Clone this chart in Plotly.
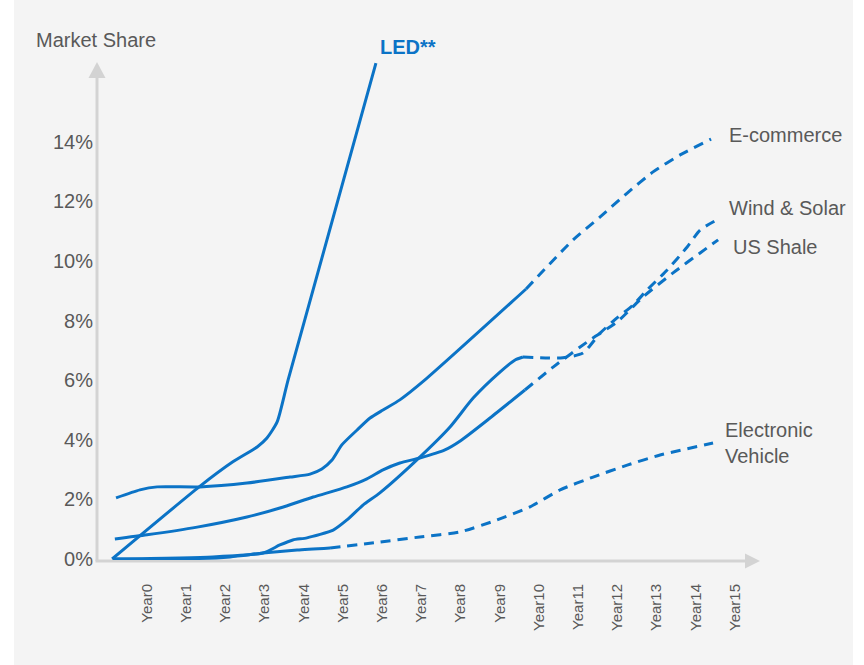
import plotly.graph_objects as go

# ---- data: market share (%) by year position; solid = history, dashed = forecast ----
years = list(range(16))
year_labels = [f"Year{i}" for i in years]
share_ticks = [0, 2, 4, 6, 8, 10, 12, 14]

led_year = [-0.89, 1.33, 2.19, 2.81, 3.06, 3.32, 3.60, 5.84]
led_share = [0.0, 2.42, 3.26, 3.76, 4.06, 4.60, 6.01, 16.64]

ecom_year = [-0.79, -0.18, 0.26, 1.35, 2.55, 3.65, 4.16, 4.46, 4.72, 4.97, 5.36, 5.69,
             6.02, 6.45, 7.09, 9.67]
ecom_share = [2.05, 2.32, 2.42, 2.42, 2.55, 2.75, 2.85, 3.02, 3.32, 3.83, 4.33, 4.73,
              5.00, 5.34, 6.01, 9.06]
ecom_fc_year = [9.67, 10.87, 11.56, 12.25, 12.91, 13.60, 14.39]
ecom_fc_share = [9.06, 10.71, 11.48, 12.28, 12.99, 13.56, 14.09]

shale_year = [-0.82, 0.0, 1.28, 2.55, 3.39, 4.24, 5.10, 5.61, 6.02, 6.45, 6.96, 7.60,
              7.99, 8.75, 9.64]
shale_share = [0.67, 0.81, 1.07, 1.41, 1.71, 2.08, 2.42, 2.69, 2.99, 3.22, 3.39, 3.66,
               3.96, 4.73, 5.67]
shale_fc_year = [9.64, 10.36, 11.30, 11.99, 12.65, 13.42, 14.11, 14.57]
shale_fc_share = [5.67, 6.44, 7.35, 7.95, 8.79, 9.60, 10.27, 10.71]

wind_year = [-0.87, 1.68, 2.96, 3.39, 3.72, 4.08, 4.75, 5.10, 5.51, 5.94, 6.96, 7.73,
             8.32, 9.01, 9.39, 9.59]
wind_share = [0.0, 0.07, 0.20, 0.47, 0.64, 0.71, 0.97, 1.31, 1.81, 2.22, 3.42, 4.43,
              5.40, 6.28, 6.68, 6.78]
wind_fc_year = [9.59, 10.61, 11.12, 11.56, 11.99, 12.40, 12.76, 13.27, 13.78, 14.11, 14.54]
wind_fc_share = [6.78, 6.75, 6.91, 7.58, 8.09, 8.52, 9.03, 9.70, 10.47, 11.04, 11.38]

ev_year = [-0.87, 0.84, 2.12, 2.96, 3.83, 4.67]
ev_share = [0.0, 0.0, 0.07, 0.20, 0.30, 0.37]
ev_fc_year = [4.67, 5.94, 6.96, 7.99, 8.93, 9.77, 10.54, 11.38, 12.25, 13.09, 14.44]
ev_fc_share = [0.37, 0.57, 0.74, 0.91, 1.31, 1.75, 2.32, 2.75, 3.15, 3.49, 3.89]

BLUE = "#0b73c6"
GREY_TEXT = "#595959"
AXIS_GREY = "#d3d3d3"
FONT = "Liberation Sans, Arial, sans-serif"

W, H = 864, 665
ML, MB = 97, 105            # plot area: left edge = value axis, bottom edge = time axis
PW, PH = W - ML, H - MB
PX_PER_YEAR, X0_PX = 39.2, 147.0
PX_PER_PCT, Y0_PX = 29.8, 559.0

x_range = [(ML - X0_PX) / PX_PER_YEAR, (W - X0_PX) / PX_PER_YEAR]
y_range = [(Y0_PX - PH) / PX_PER_PCT, Y0_PX / PX_PER_PCT]


def px(x, y):
    """Pixel position -> paper coordinates."""
    return (x - ML) / PW, (PH - y) / PH


fig = go.Figure()

series = [
    (led_year, led_share, None, None),
    (ecom_year, ecom_share, ecom_fc_year, ecom_fc_share),
    (shale_year, shale_share, shale_fc_year, shale_fc_share),
    (wind_year, wind_share, wind_fc_year, wind_fc_share),
    (ev_year, ev_share, ev_fc_year, ev_fc_share),
]
for hx, hy, fx, fy in series:
    fig.add_trace(go.Scatter(x=hx, y=hy, mode="lines",
                             line=dict(color=BLUE, width=3, shape="spline", smoothing=0.6),
                             hoverinfo="skip", showlegend=False, cliponaxis=False))
    if fx is not None:
        fig.add_trace(go.Scatter(x=fx, y=fy, mode="lines",
                                 line=dict(color=BLUE, width=3, shape="spline",
                                           smoothing=0.6, dash="10px,7px"),
                                 hoverinfo="skip", showlegend=False, cliponaxis=False))

shapes = []
# panel background
bx0, by0 = px(14, 665)
bx1, by1 = px(853, 0)
shapes.append(dict(type="rect", xref="paper", yref="paper", x0=bx0, y0=by0, x1=bx1, y1=by1,
                   fillcolor="#f4f4f4", line=dict(width=0), layer="below"))
# axes with arrowheads
ax0, ay0 = px(97, 561)
ax1, ay1 = px(97, 78)
shapes.append(dict(type="line", xref="paper", yref="paper", x0=ax0, y0=ay0, x1=ax1, y1=ay1,
                   line=dict(color=AXIS_GREY, width=3), layer="below"))
hx0, hy0 = px(95.5, 561)
hx1, hy1 = px(745, 561)
shapes.append(dict(type="line", xref="paper", yref="paper", x0=hx0, y0=hy0, x1=hx1, y1=hy1,
                   line=dict(color=AXIS_GREY, width=3), layer="below"))


def tri(points):
    coords = [px(a, b) for a, b in points]
    return "M " + " L ".join(f"{a:.5f},{b:.5f}" for a, b in coords) + " Z"


shapes.append(dict(type="path", xref="paper", yref="paper",
                   path=tri([(88.5, 78), (105.5, 78), (97, 62)]),
                   fillcolor=AXIS_GREY, line=dict(width=0), layer="below"))
shapes.append(dict(type="path", xref="paper", yref="paper",
                   path=tri([(745, 553.5), (745, 568.5), (760, 561)]),
                   fillcolor=AXIS_GREY, line=dict(width=0), layer="below"))

# text labels, positioned in pixels and converted to paper coordinates
labels = [
    (34, 40, "Market Share", GREY_TEXT),
    (378, 47, "<b>LED**</b>", BLUE),
    (727, 135, "E-commerce", GREY_TEXT),
    (727, 208, "Wind & Solar", GREY_TEXT),
    (731, 247, "US Shale", GREY_TEXT),
    (723, 443, "Electronic<br>Vehicle", GREY_TEXT),
]
annotations = []
for lx, ly, text, color in labels:
    ax, ay = px(lx, ly)
    annotations.append(dict(x=ax, y=ay, xref="paper", yref="paper", text=text,
                            xanchor="left", yanchor="middle", align="left",
                            showarrow=False, font=dict(size=20, color=color, family=FONT)))

fig.update_layout(
    width=W, height=H,
    margin=dict(l=ML, r=0, t=0, b=MB, pad=0),
    paper_bgcolor="white",
    plot_bgcolor="rgba(0,0,0,0)",
    font=dict(family=FONT, color=GREY_TEXT),
    shapes=shapes,
    annotations=annotations,
    showlegend=False,
)
fig.update_xaxes(range=x_range, tickmode="array", tickvals=years, ticktext=year_labels,
                 tickangle=-90, tickfont=dict(size=15, color=GREY_TEXT, family=FONT),
                 ticks="", showgrid=False, zeroline=False, showline=False,
                 ticklabelstandoff=20, fixedrange=True)
fig.update_yaxes(range=y_range, tickmode="array", tickvals=share_ticks,
                 ticktext=[f"{v}%" for v in share_ticks],
                 tickfont=dict(size=20, color=GREY_TEXT, family=FONT),
                 ticks="", showgrid=False, zeroline=False, showline=False,
                 ticklabelstandoff=3, fixedrange=True)

fig.write_html("out.html", config={"displayModeBar": False})
